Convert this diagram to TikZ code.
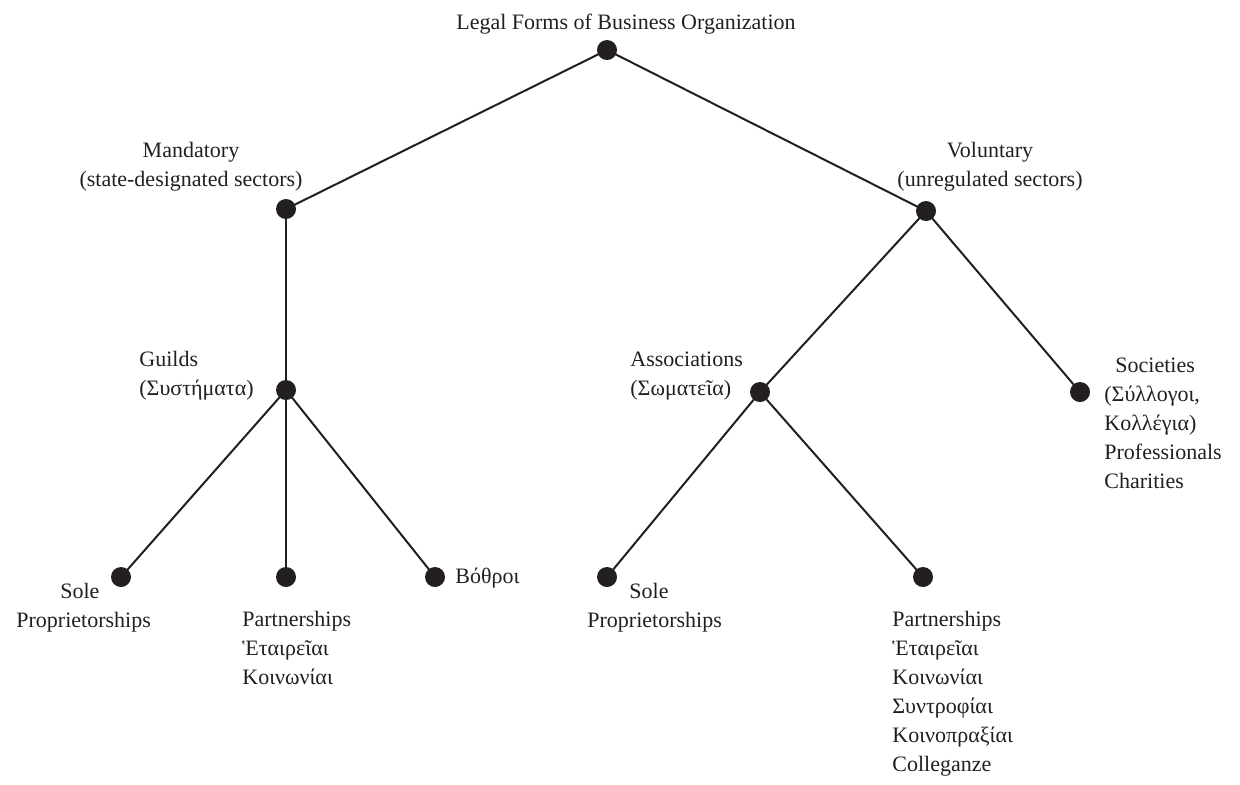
\documentclass[tikz,border=0pt]{standalone}
\usepackage{fontspec}
\setmainfont{Liberation Serif}
\definecolor{ink}{HTML}{231F20}
\begin{document}
\begin{tikzpicture}[x=0.5pt,y=-0.5pt,
  dot/.style={circle,fill=ink,inner sep=0pt,minimum size=10pt},
  edge/.style={line width=1pt,ink},
  lbl/.style={inner sep=0pt,text=ink,font=\fontsize{11}{14.5}\selectfont}]
\useasboundingbox (0,0) rectangle (1240,784);
% dots
\node[dot] (root)  at (607,50) {};
\node[dot] (mand)  at (286,209) {};
\node[dot] (vol)   at (926,211) {};
\node[dot] (guild) at (286,390) {};
\node[dot] (assoc) at (760,392) {};
\node[dot] (soc)   at (1080,392) {};
\node[dot] (sole1) at (121,577) {};
\node[dot] (part1) at (286,577) {};
\node[dot] (voth)  at (435,577) {};
\node[dot] (sole2) at (607,577) {};
\node[dot] (part2) at (923,577) {};
% edges
\draw[edge] (root.center) -- (mand.center);
\draw[edge] (root.center) -- (vol.center);
\draw[edge] (mand.center) -- (guild.center);
\draw[edge] (vol.center) -- (assoc.center);
\draw[edge] (vol.center) -- (soc.center);
\draw[edge] (guild.center) -- (sole1.center);
\draw[edge] (guild.center) -- (part1.center);
\draw[edge] (guild.center) -- (voth.center);
\draw[edge] (assoc.center) -- (sole2.center);
\draw[edge] (assoc.center) -- (part2.center);
% labels (base anchor = baseline of the last line)
\node[lbl,anchor=base] (troot) at (626,29) {Legal Forms of Business Organization};
\node[lbl,anchor=base,align=center] (tmand) at (191,186) {Mandatory\\(state-designated sectors)};
\node[lbl,anchor=base,align=center] (tvol) at (990,186) {Voluntary\\(unregulated sectors)};
\node[lbl,anchor=base west,align=left] (tguild) at (139,395) {Guilds\\(Συστήματα)};
\node[lbl,anchor=base west,align=left] (tassoc) at (630,395) {Associations\\(Σωματεῖα)};
\node[lbl,anchor=base west,align=left] (tsoc) at (1104,488) {\hspace{5.5pt}Societies\\(Σύλλογοι,\\Κολλέγια)\\Professionals\\Charities};
\node[lbl,anchor=base west,align=left] (tsole1) at (16,627) {\hspace{22pt}Sole\\Proprietorships};
\node[lbl,anchor=base west] (tvoth) at (455,583) {Βόθροι};
\node[lbl,anchor=base west,align=left] (tpart1) at (242,684) {Partnerships\\Ἑταιρεῖαι\\Κοινωνίαι};
\node[lbl,anchor=base west,align=left] (tsole2) at (587,627) {\hspace{21pt}Sole\\Proprietorships};
\node[lbl,anchor=base west,align=left] (tpart2) at (892,771) {Partnerships\\Ἑταιρεῖαι\\Κοινωνίαι\\Συντροφίαι\\Κοινοπραξίαι\\Colleganze};
\end{tikzpicture}
\end{document}
